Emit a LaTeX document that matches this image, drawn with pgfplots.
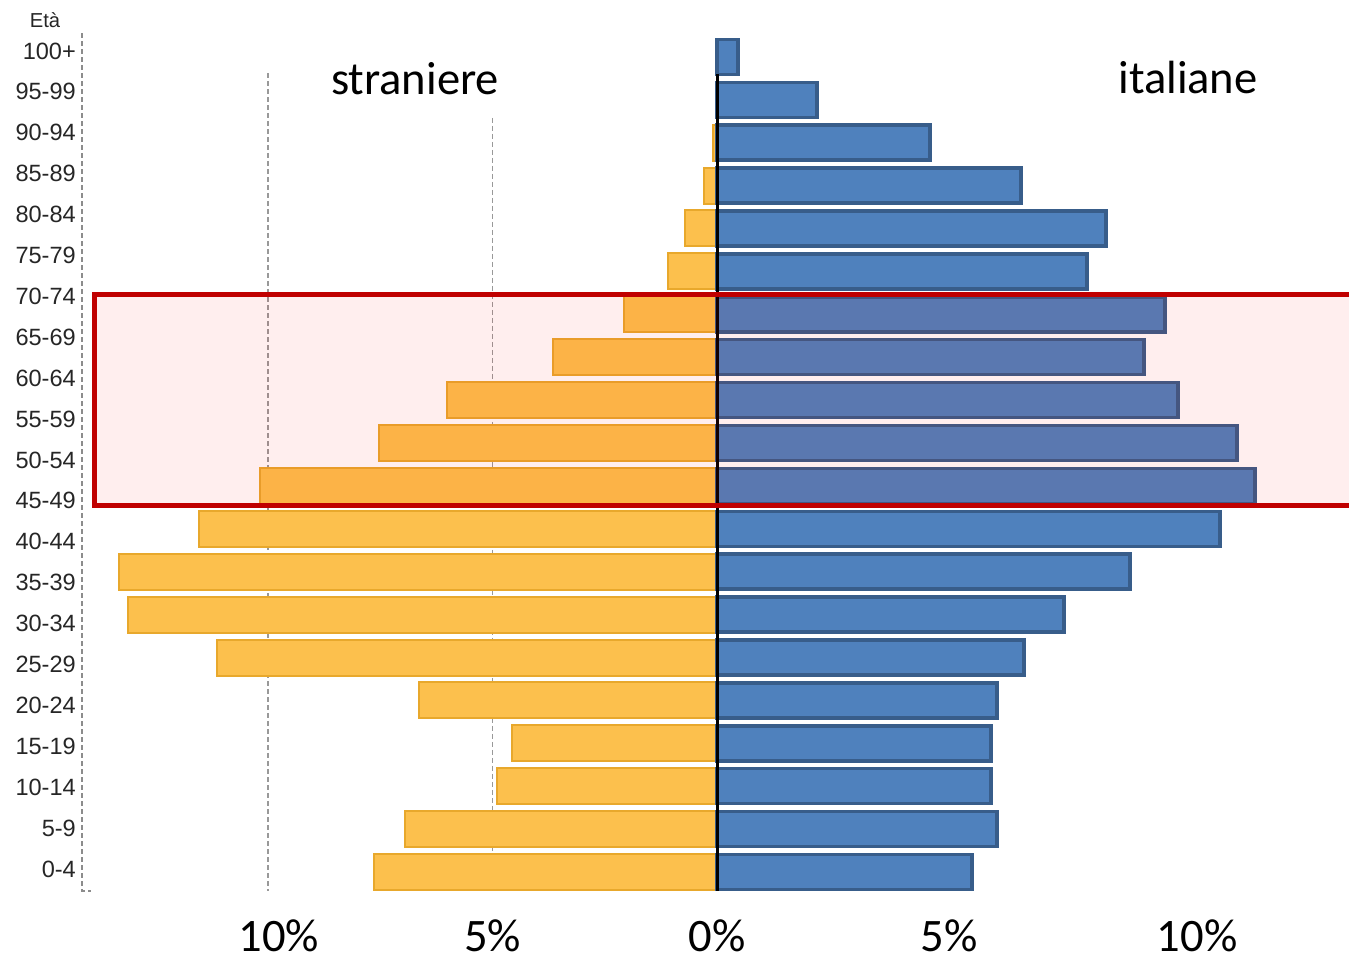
\documentclass[border=0pt]{standalone}
\usepackage{fontspec}
\setmainfont{Carlito}
\newfontfamily\arialfont{Liberation Sans}
\usepackage{pgfplots}
\pgfplotsset{compat=1.18}

\definecolor{barY}{RGB}{252,192,77}
\definecolor{barYdark}{RGB}{232,168,44}
\definecolor{barB}{RGB}{79,129,189}
\definecolor{barBdark}{RGB}{56,93,138}
\definecolor{boxred}{RGB}{192,0,0}

% 1 px of the reference = 0.2mm
\pgfplotsset{pyr/.style={
    xbar, scale only axis, height=171.2mm,
    ymin=0.557, ymax=20.51,
    axis line style={draw=none}, major tick length=0pt, clip=false,
    xticklabel style={font=\fontsize{26.5}{26.5}\selectfont, anchor=center,
                      inner sep=0pt, yshift=-8.9mm},
}}

\begin{document}
\begin{tikzpicture}
\path[use as bounding box] (0,0) rectangle (269.8mm,-192.4mm);

% straniere (left)
\begin{axis}[pyr,
    at={(16.4mm,-178.2mm)}, anchor=south west,
    width=127mm, xmin=-14.14, xmax=0,
    xtick={-10,-5,0}, xticklabels={\hspace*{4.4mm}10\%,5\%,0\%},
    ytick={1.070,2.023,2.977,3.930,4.884,5.837,6.790,7.744,8.697,9.651,10.604,
           11.557,12.511,13.464,14.418,15.371,16.324,17.278,18.231,19.185,20.138},
    yticklabels={0-4,5-9,10-14,15-19,20-24,25-29,30-34,35-39,40-44,45-49,50-54,
                 55-59,60-64,65-69,70-74,75-79,80-84,85-89,90-94,95-99,100+},
    yticklabel style={font=\arialfont\fontsize{13.4}{13.4}\selectfont, text=black!85},
  ]
  \draw[black!45, dash pattern=on 1mm off 0.6mm, line width=0.24mm]
    (axis cs:-14.14,20.55) -- (axis cs:-14.14,0.557) -- (axis cs:-13.94,0.557);
  \draw[black!40, dash pattern=on 1mm off 0.6mm, line width=0.24mm]
    (axis cs:-10,19.62) -- (axis cs:-10,0.557);
  \draw[black!40, dash pattern=on 1mm off 0.6mm, line width=0.24mm]
    (axis cs:-5,18.58) -- (axis cs:-5,0.557);
  \addplot[fill=barY, draw=barYdark, line width=0.4mm, bar width=7.2mm]
    coordinates {(-7.64,1) (-6.95,2) (-4.90,3) (-4.57,4) (-6.64,5) (-11.14,6)
                 (-13.12,7) (-13.32,8) (-11.54,9) (-10.18,10) (-7.53,11) (-6.01,12)
                 (-3.65,13) (-2.07,14) (-1.09,15) (-0.71,16) (-0.29,17) (-0.09,18)
                 (-0.03,19)};
\end{axis}

% italiane (right)
\begin{axis}[pyr,
    at={(143.4mm,-178.2mm)}, anchor=south west,
    width=126.4mm, xmin=0, xmax=13.166,
    xtick={5,10}, xticklabels={5\%\hspace*{3.2mm},10\%},
    ytick=\empty,
  ]
  \addplot[fill=barB, draw=barBdark, line width=0.7mm, bar width=7mm]
    coordinates {(5.31,1) (5.83,2) (5.71,3) (5.71,4) (5.83,5) (6.40,6) (7.23,7)
                 (8.60,8) (10.48,9) (11.21,10) (10.83,11) (9.60,12) (8.90,13)
                 (9.33,14) (7.71,15) (8.10,16) (6.33,17) (4.44,18) (2.08,19)
                 (0.44,20)};
  \draw[black, line width=0.6mm] (axis cs:0,19.60) -- (axis cs:0,0.557);
\end{axis}

% highlighted age band
\draw[boxred, line width=1mm, fill=red, fill opacity=0.065]
  (18.9mm,-58.9mm) rectangle (270.6mm,-101.1mm);

\node[font=\arialfont\fontsize{11.5}{11.5}\selectfont, text=black!85] at (9mm,-4mm) {Età};
\node[font=\fontsize{26.5}{26.5}\selectfont] at (83mm,-15.8mm) {straniere};
\node[font=\fontsize{26.5}{26.5}\selectfont] at (237.6mm,-15.4mm) {italiane};
\end{tikzpicture}
\end{document}
